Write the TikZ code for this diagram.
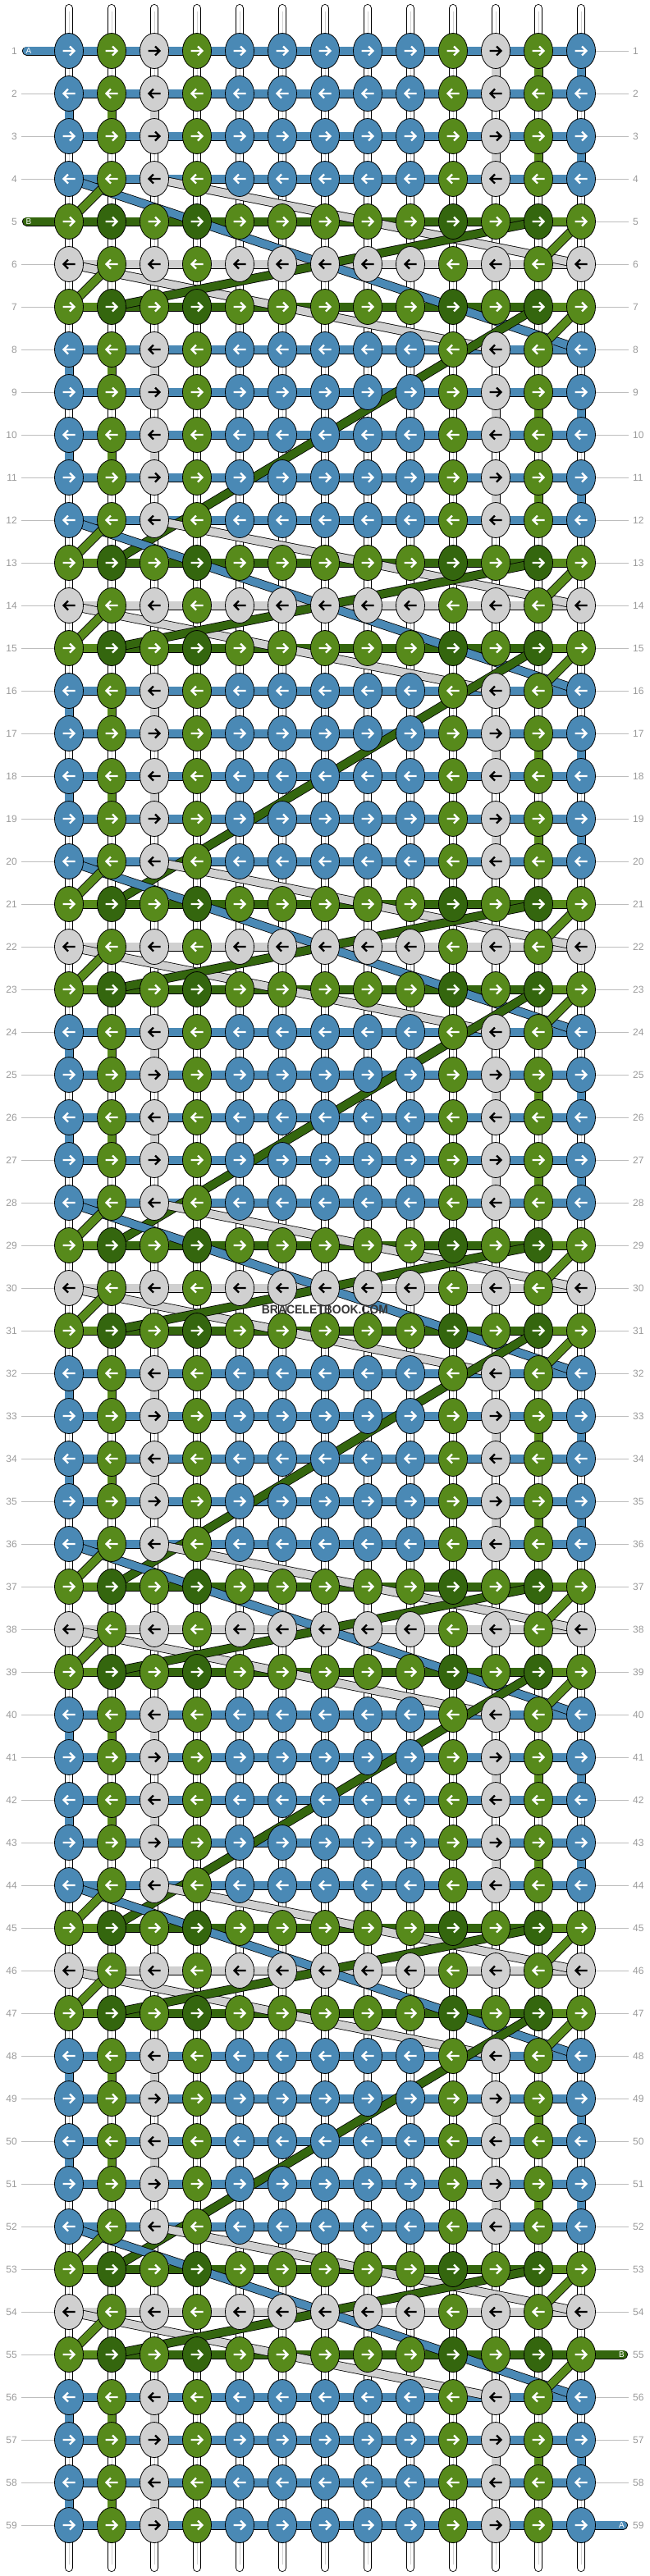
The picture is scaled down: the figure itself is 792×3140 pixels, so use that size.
\documentclass[tikz,border=0pt]{standalone}
\usepackage{fontspec}
\setmainfont{Liberation Sans}
\usetikzlibrary{shapes.geometric}

\definecolor{threadblue}{HTML}{4A89B5}
\definecolor{threadgreen}{HTML}{578A1B}
\definecolor{threaddark}{HTML}{34660E}
\definecolor{threadgray}{HTML}{D0D0D0}
\definecolor{labelgray}{HTML}{9A9A9A}
\definecolor{linegray}{HTML}{BDBDBD}
\definecolor{markgray}{HTML}{383838}

\pgfdeclarelayer{warps}
\pgfdeclarelayer{bands}
\pgfdeclarelayer{diags}
\pgfsetlayers{warps,bands,diags,main}

\def\graycol{threadgray}

\tikzset{
  knot/.style={ellipse, draw=black, line width=0.8pt, minimum width=35pt, minimum height=43pt, inner sep=0pt},
  strand/.style={draw=black, line width=0.8pt, double=#1, double distance=9.4pt},
  warp/.style={draw=black, line width=0.8pt, double=white, double distance=8.4pt, line cap=round},
  warpcore/.style={draw=threadgray, line width=1pt},
  rowlabel/.style={text=labelgray, inner sep=0pt, font=\fontsize{12}{12}\selectfont},
  labelline/.style={draw=linegray, line width=0.9pt, shorten <=5pt},
  tabtext/.style={text=white, inner sep=0pt, font=\fontsize{10}{10}\selectfont},
  arr/.pic={\draw[#1, line width=2.4pt, line join=miter] (-7.5,0) -- (5.5,0) (1,-5.5) -- (6.5,0) -- (1,5.5);}
}

\begin{document}
\begin{tikzpicture}[x=1pt, y=-1pt]
  \useasboundingbox (0,0) rectangle (792,3140);
  \begin{pgfonlayer}{warps}
    \fill[white] (0,0) rectangle (792,3140);
  \end{pgfonlayer}

  % warp strings
  \foreach \c in {1,...,13} {
    \coordinate (top-\c) at ({84+52*(\c-1)},10);
    \coordinate (bot-\c) at ({84+52*(\c-1)},3130);
    \begin{pgfonlayer}{warps}
      \draw[warp] (top-\c) -- (bot-\c);
      \draw[warpcore, shorten <=4pt, shorten >=4pt] (top-\c) -- (bot-\c);
    \end{pgfonlayer}
  }

  % knots, one row at a time
  \foreach \r in {1,...,59} {
    \pgfmathtruncatemacro{\m}{\r<5 ? 3 : mod(\r-5,8)}
    \pgfmathsetmacro{\y}{62+52*(\r-1)}
    \ifcase\m
      \def\basecol{threadgreen}\def\acccol{threaddark}\def\seccol{threadgreen}\def\bandcol{threaddark}
    \or
      \def\basecol{threadgray}\def\acccol{threadgreen}\def\seccol{threadgray}\def\bandcol{threadgray}
    \or
      \def\basecol{threadgreen}\def\acccol{threaddark}\def\seccol{threadgreen}\def\bandcol{threaddark}
    \else
      \def\basecol{threadblue}\def\acccol{threadgreen}\def\seccol{threadgray}\def\bandcol{threadblue}
    \fi
    \ifodd\r\relax \def\dir{1}\else \def\dir{-1}\fi
    \foreach \c/\cls in {1/0,2/1,3/2,4/1,5/0,6/0,7/0,8/0,9/0,10/1,11/2,12/1,13/0} {
      \ifcase\cls\relax \let\kc\basecol \or \let\kc\acccol \else \let\kc\seccol \fi
      \ifx\kc\graycol \def\ac{black}\else \def\ac{white}\fi
      \node[knot, fill=\kc] (k-\r-\c) at ({84+52*(\c-1)},\y) {};
      \pic[xscale=\dir] at (k-\r-\c) {arr=\ac};
    }
    \node[rowlabel, anchor=east] (ll-\r) at (21,\y) {\r};
    \node[rowlabel, anchor=west] (lr-\r) at (771,\y) {\r};
    \begin{pgfonlayer}{bands}
      \draw[strand=\bandcol] (k-\r-1.center) -- (k-\r-13.center);
      \ifodd\m\relax\else\ifnum\m<3
        \ifnum\r=5\else \draw[strand=threadgreen] (k-\r-1.center) -- (k-\r-2.center);\fi
        \ifnum\r=55\else \draw[strand=threadgreen] (k-\r-12.center) -- (k-\r-13.center);\fi
      \fi\fi
      \ifnum\r=1\else\ifnum\r=5\else \draw[labelline] (ll-\r) -- (k-\r-1);\fi\fi
      \ifnum\r=55\else\ifnum\r=59\else \draw[labelline] (lr-\r) -- (k-\r-13);\fi\fi
    \end{pgfonlayer}
  }

  % turns of the strings between two plain rows
  \begin{pgfonlayer}{bands}
  \foreach \r in {2,...,59} {
    \pgfmathtruncatemacro{\pr}{\r-1}
    \pgfmathtruncatemacro{\m}{\r<5 ? 3 : mod(\r-5,8)}
    \pgfmathtruncatemacro{\mq}{\pr<5 ? 3 : mod(\pr-5,8)}
    \ifnum\m>2 \ifnum\mq>2
      \ifodd\pr\relax
        \draw[strand=threadgray] (k-\pr-11.center) -- (k-\r-11.center);
        \draw[strand=threadgreen] (k-\pr-12.center) -- (k-\r-12.center);
        \draw[strand=threadblue] (k-\pr-13.center) -- (k-\r-13.center);
      \else
        \draw[strand=threadblue] (k-\pr-1.center) -- (k-\r-1.center);
        \draw[strand=threadgreen] (k-\pr-2.center) -- (k-\r-2.center);
        \draw[strand=threadgray] (k-\pr-3.center) -- (k-\r-3.center);
      \fi
    \fi\fi
  }
  \end{pgfonlayer}

  % strings crossing over in each block
  \begin{pgfonlayer}{diags}
  \foreach \k in {0,...,6} {
    \pgfmathtruncatemacro{\ta}{4+8*\k}
    \pgfmathtruncatemacro{\tb}{\ta+1}
    \pgfmathtruncatemacro{\tc}{\ta+2}
    \pgfmathtruncatemacro{\td}{\ta+3}
    \pgfmathtruncatemacro{\te}{\ta+4}
    \pgfmathtruncatemacro{\tf}{\ta+9}
    \draw[strand=threadgray] (k-\ta-3.center) -- (k-\tc-13.center);
    \draw[strand=threadgray] (k-\tc-1.center) -- (k-\te-11.center);
    \draw[strand=threadblue] (k-\ta-1.center) -- (k-\te-13.center);
    \draw[strand=threaddark] (k-\tb-12.center) -- (k-\td-2.center);
    \ifnum\k<6 \draw[strand=threaddark] (k-\td-12.center) -- (k-\tf-2.center);\fi
    \draw[strand=threadgreen] (k-\ta-2.center) -- (k-\tb-1.center);
    \draw[strand=threadgreen] (k-\tc-2.center) -- (k-\td-1.center);
    \draw[strand=threadgreen] (k-\tb-13.center) -- (k-\tc-12.center);
    \draw[strand=threadgreen] (k-\td-13.center) -- (k-\te-12.center);
  }
  \end{pgfonlayer}

  % loose ends A and B
  \coordinate (a-in) at (32.5,62);
  \coordinate (b-in) at (32.5,270);
  \coordinate (b-out) at (759.5,2870);
  \coordinate (a-out) at (759.5,3078);
  \begin{pgfonlayer}{bands}
    \draw[strand=threadblue, line cap=round] (a-in) -- (k-1-1.center);
    \draw[strand=threaddark, line cap=round] (b-in) -- (k-5-1.center);
    \draw[strand=threaddark, line cap=round] (k-55-13.center) -- (b-out);
    \draw[strand=threadblue, line cap=round] (k-59-13.center) -- (a-out);
  \end{pgfonlayer}
  \node[tabtext] (a-in-text) at (35,62) {A};
  \node[tabtext] (b-in-text) at (35,270) {B};
  \node[tabtext] (b-out-text) at (757.5,2870) {B};
  \node[tabtext] (a-out-text) at (757.5,3078) {A};

  \node[font=\bfseries\fontsize{15}{15}\selectfont, text=markgray, xscale=0.93] (watermark) at (396,1596) {BRACELETBOOK.COM};
\end{tikzpicture}
\end{document}
